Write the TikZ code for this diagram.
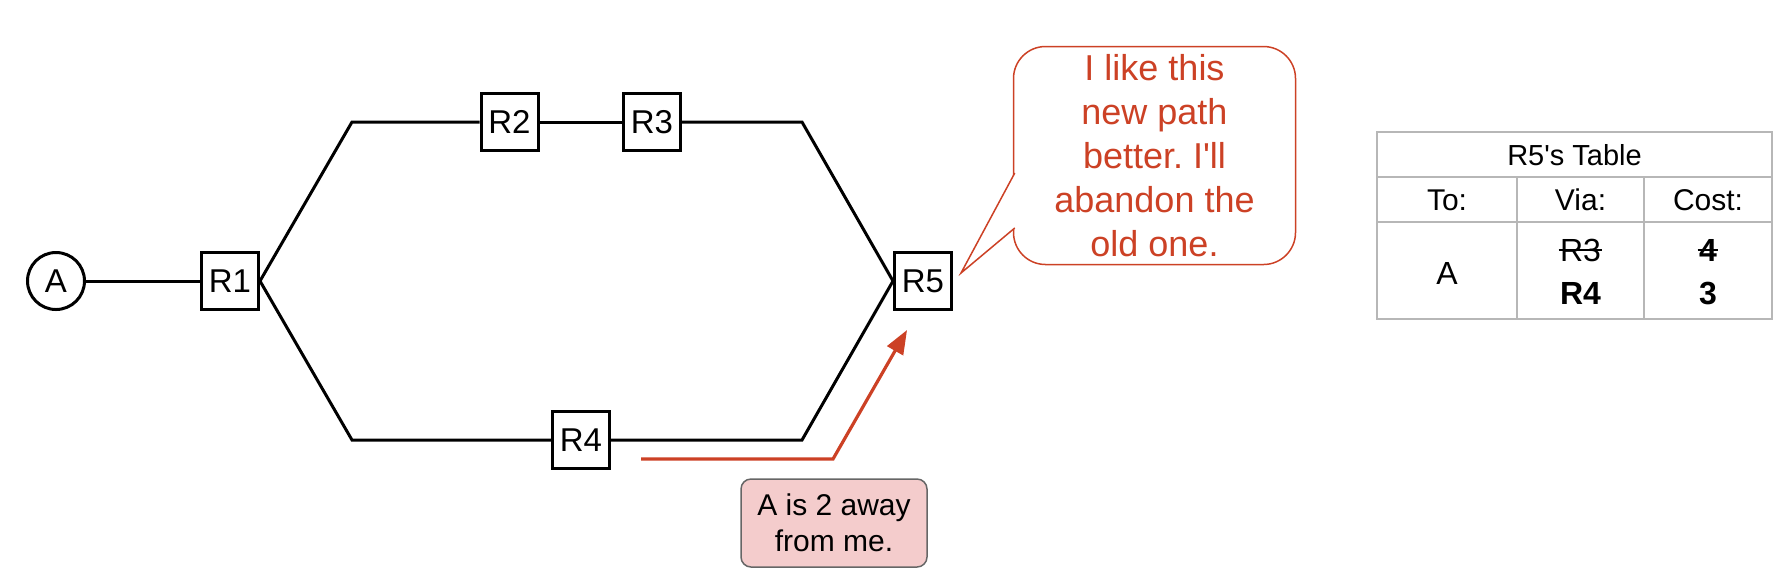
\documentclass[tikz,border=0pt]{standalone}
\usepackage{fontspec}
\setmainfont{Liberation Sans}[Ligatures=TeXOff]
\usepackage{tikz}
\usetikzlibrary{arrows.meta,shapes}
\frenchspacing
\definecolor{berry}{RGB}{204,65,37}
\definecolor{rose}{RGB}{244,204,204}
\definecolor{rulegray}{RGB}{183,183,183}
\tikzstyle{router} = [rectangle, draw=black, line width=1.5pt, fill=white, minimum size=28.5pt, inner sep=0pt, font=\fontsize{16.5}{19}\selectfont]
\tikzstyle{host} = [circle, draw=black, line width=1.5pt, fill=white, minimum size=28.5pt, inner sep=0pt, font=\fontsize{16.5}{19}\selectfont]
\tikzstyle{link} = [line width=1.5pt]
\tikzstyle{msg} = [line width=1.6pt, draw=berry, -{Triangle[length=12pt,width=9pt]}]
\tikzstyle{note} = [rectangle, rounded corners=5pt, draw=black!60, line width=0.75pt, fill=rose, align=center, minimum width=93pt, minimum height=44pt, inner sep=0pt, font=\fontsize{15}{18}\selectfont]
\tikzstyle{bubbleline} = [draw=berry, line width=0.75pt]
\tikzstyle{bubble} = [bubbleline, rectangle, rounded corners=16pt, fill=white, text=berry, align=center, minimum width=141pt, minimum height=109pt, inner sep=0pt, font=\fontsize{18}{22}\selectfont]
\tikzstyle{tablegrid} = [draw=rulegray, line width=1pt]
\tikzstyle{cell} = [inner sep=0.5pt, font=\fontsize{15}{18}\selectfont]
\tikzstyle{strike} = [line width=1pt]

\begin{document}
\begin{tikzpicture}[x=0.5pt,y=-0.5pt]
\useasboundingbox (0,0) rectangle (1776,586);
% network
\node[host] (A) at (56,281) {A};
\node[router] (R1) at (230,281) {R1};
\node[router] (R2) at (509.5,122) {R2};
\node[router] (R3) at (652,122) {R3};
\node[router] (R4) at (581,440) {R4};
\node[router] (R5) at (923,281) {R5};
\coordinate (ul) at (352,122);
\coordinate (ur) at (802,122);
\coordinate (ll) at (352,440);
\coordinate (lr) at (802,440);
\draw[link] (A) -- (R1);
\draw[link] (R1.east) -- (ul) -- (R2);
\draw[link] (R2) -- (R3);
\draw[link] (R3) -- (ur) -- (R5.west);
\draw[link] (R1.east) -- (ll) -- (R4);
\draw[link] (R4) -- (lr) -- (R5.west);
% advertisement from R4
\coordinate (m0) at (641,459);
\coordinate (m1) at (833,459);
\coordinate (m2) at (907,330);
\draw[msg] (m0) -- (m1) -- (m2);
\node[note] (away) at (834,523) {A is 2 away\\from me.};
% R5 speaks
\node[bubble] (say) at (1154.5,155.5) {I like this\\new path\\better. I'll\\abandon the\\old one.};
\coordinate (tip) at (961,273);
\filldraw[bubbleline, fill=white] ([xshift=1pt,yshift=-8.75pt]say.west) -- (tip) -- ([xshift=1pt,yshift=-36.25pt]say.west);
% table
\draw[tablegrid] (1377,132) rectangle (1772,319);
\draw[tablegrid] (1377,177) -- (1772,177);
\draw[tablegrid] (1377,222) -- (1772,222);
\draw[tablegrid] (1517,177) -- (1517,319);
\draw[tablegrid] (1644,177) -- (1644,319);
\node[cell, font=\fontsize{14.5}{17}\selectfont] (title) at (1574.5,155) {R5's Table};
\node[cell] (to) at (1447,200) {To:};
\node[cell] (via) at (1580.5,200) {Via:};
\node[cell] (cost) at (1708,200) {Cost:};
\node[cell, font=\fontsize{16}{19}\selectfont] (dest) at (1447,273) {A};
\node[cell, font=\fontsize{16}{19}\selectfont] (oldhop) at (1580.5,250) {R3};
\node[cell, font=\fontsize{16}{19}\selectfont\bfseries] (newhop) at (1580.5,293) {R4};
\node[cell, font=\fontsize{16}{19}\selectfont\bfseries] (oldcost) at (1708,250) {4};
\node[cell, font=\fontsize{16}{19}\selectfont\bfseries] (newcost) at (1708,293) {3};
\draw[strike] (oldhop.west) -- (oldhop.east);
\draw[strike] (oldcost.west) -- (oldcost.east);
\end{tikzpicture}
\end{document}
